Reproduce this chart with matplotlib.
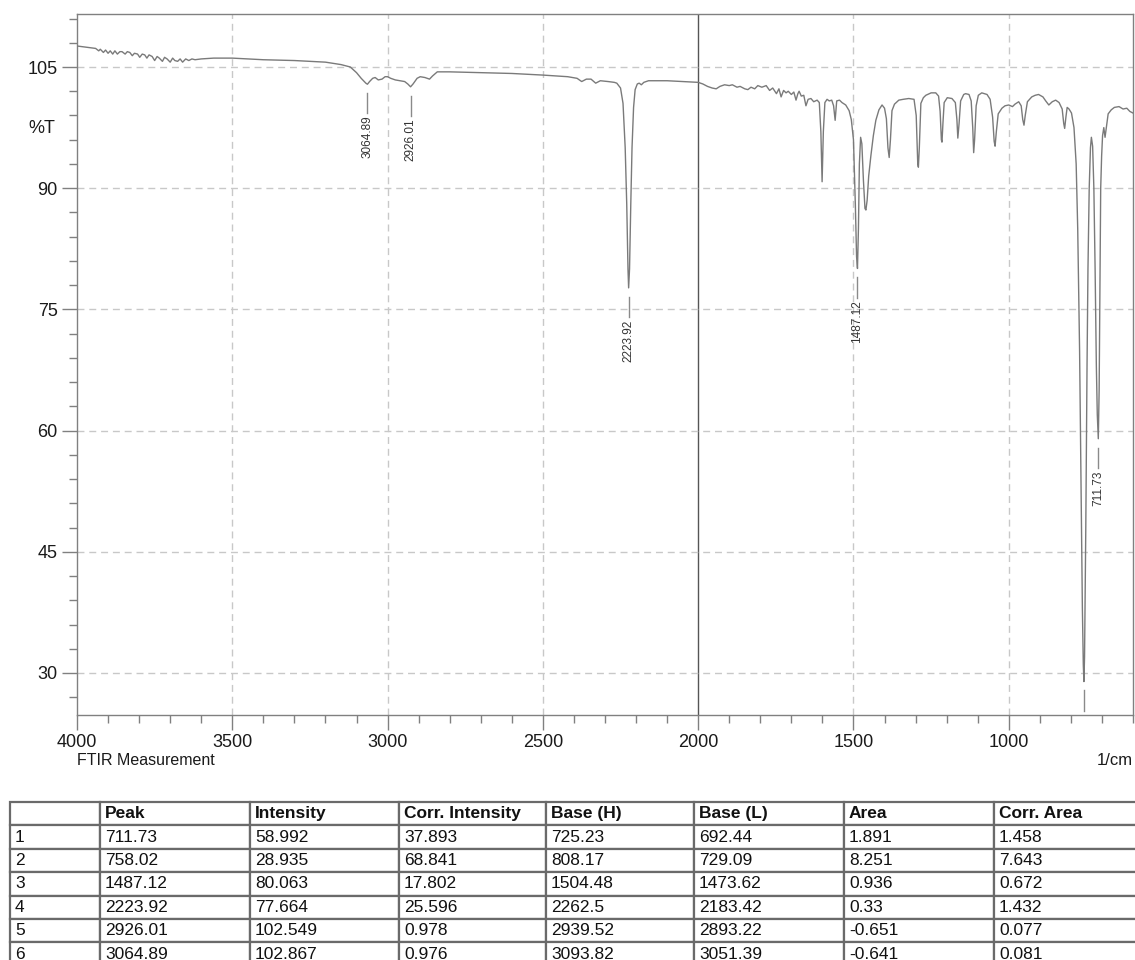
import matplotlib
matplotlib.use('Agg')
import matplotlib.pyplot as plt
from matplotlib.ticker import MultipleLocator

plt.rcParams['font.family'] = ['Liberation Sans', 'DejaVu Sans']

# Spectrum (wavenumber in 1/cm, %T)
wavenumber = [
    4000, 3980, 3960, 3940, 3930, 3925, 3915, 3908, 3900, 3893, 3885, 3878,
    3870, 3862, 3855, 3845, 3838, 3830, 3822, 3815, 3805, 3798, 3790, 3782,
    3775, 3768, 3758, 3750, 3742, 3735, 3725, 3718, 3710, 3700, 3692, 3685,
    3676, 3668, 3660, 3650, 3640, 3630, 3620, 3600, 3560, 3500, 3450, 3400,
    3300, 3200, 3150, 3120, 3100, 3085, 3070, 3064.89, 3058, 3048, 3040, 3030,
    3018, 3008, 3000, 2990, 2975, 2960, 2945, 2935, 2926.01, 2918, 2905, 2895,
    2880, 2865, 2855, 2840, 2800, 2700, 2600, 2500, 2420, 2390, 2375, 2360,
    2345, 2330, 2315, 2290, 2270, 2262, 2250, 2242, 2235, 2230, 2226, 2223.92,
    2221, 2217, 2213, 2208, 2203, 2196, 2190, 2183, 2175, 2160, 2100, 2050,
    2000, 1985, 1970, 1955, 1942, 1930, 1915, 1900, 1890, 1875, 1865, 1850,
    1840, 1830, 1818, 1808, 1795, 1781, 1770, 1760, 1748, 1740, 1733, 1725,
    1717, 1710, 1700, 1692, 1685, 1679, 1675, 1668, 1660, 1653, 1646, 1637,
    1628, 1617, 1610, 1605, 1601, 1597, 1592, 1585, 1578, 1570, 1564, 1559,
    1554, 1545, 1537, 1525, 1514, 1507, 1500, 1494, 1490, 1487.12, 1484, 1481,
    1477, 1473, 1468, 1463, 1460, 1456, 1451, 1444, 1436, 1428, 1418, 1408,
    1400, 1394, 1389, 1385, 1381, 1376, 1368, 1354, 1340, 1322, 1305, 1298,
    1293, 1291, 1288, 1283, 1275, 1267, 1250, 1235, 1226, 1221, 1217, 1215,
    1212, 1208, 1198, 1183, 1172, 1167, 1164, 1160, 1155, 1145, 1139, 1128,
    1121, 1116, 1113, 1110, 1105, 1098, 1087, 1070, 1060, 1052, 1047, 1044,
    1040, 1034, 1022, 1012, 1000, 988, 980, 968, 960, 955, 951, 947,
    940, 926, 915, 904, 890, 881, 871, 860, 849, 838, 828, 823,
    820, 816, 812, 806, 798, 790, 783, 778, 772, 767, 763, 760,
    758.02, 756, 752, 748, 745, 741, 737, 734, 730, 726, 722, 718,
    715, 711.73, 709, 706, 704, 701, 698, 694, 690, 686, 680, 670,
    660, 645, 632, 620, 610, 600,
]
transmittance = [
    107.6, 107.5, 107.4, 107.3, 107.0, 107.2, 106.8, 107.1, 106.7, 107.0, 106.6, 107.0,
    106.6, 106.9, 106.9, 106.6, 106.9, 106.8, 106.4, 106.7, 106.6, 106.2, 106.6, 106.5,
    106.1, 106.5, 106.3, 105.8, 106.3, 106.1, 105.7, 106.2, 106.0, 105.6, 106.1, 105.8,
    105.7, 106.0, 105.6, 106.0, 105.8, 106.0, 105.9, 106.0, 106.1, 106.1, 106.0, 105.9,
    105.8, 105.6, 105.3, 105.0, 104.3, 103.6, 103.0, 102.867, 103.2, 103.6, 103.7, 103.4,
    103.5, 103.8, 103.8, 103.6, 103.4, 103.3, 103.2, 102.9, 102.549, 102.9, 103.6, 103.8,
    103.7, 103.5, 103.9, 104.4, 104.4, 104.3, 104.2, 104.0, 103.8, 103.6, 103.2, 103.5,
    103.5, 103.0, 103.3, 103.2, 103.1, 103.0, 102.4, 100.5, 95.0, 88.0, 80.0, 77.664,
    80.0, 88.0, 95.0, 100.0, 102.2, 102.9, 103.0, 102.8, 103.1, 103.3, 103.3, 103.2,
    103.1, 102.9, 102.6, 102.4, 102.3, 102.6, 102.8, 102.7, 102.8, 102.5, 102.6, 102.3,
    102.2, 102.5, 102.3, 102.7, 102.5, 102.7, 102.1, 102.4, 101.7, 102.3, 101.3, 102.1,
    101.8, 102.0, 101.6, 101.9, 100.9, 101.7, 102.0, 101.4, 101.5, 100.2, 101.0, 101.1,
    100.7, 100.9, 100.6, 97.0, 90.8, 97.0, 100.6, 101.0, 100.8, 100.9, 100.2, 98.4,
    100.8, 100.9, 100.6, 100.3, 99.6, 98.5, 96.0, 88.0, 81.5, 80.063, 85.0, 93.0,
    96.3, 95.5, 91.0, 87.5, 87.3, 88.5, 91.5, 94.0, 96.5, 98.4, 99.7, 100.3,
    99.9, 98.6, 95.0, 93.8, 96.0, 99.6, 100.4, 100.9, 101.0, 101.1, 101.0, 99.0,
    93.0, 92.6, 95.0, 100.5, 101.2, 101.5, 101.8, 101.8, 101.4, 99.5, 96.0, 95.7,
    98.0, 100.6, 101.2, 101.1, 100.6, 98.5, 96.2, 98.0, 100.8, 101.6, 101.7, 101.6,
    100.8, 97.5, 94.4, 96.0, 100.2, 101.5, 101.8, 101.6, 101.0, 98.8, 95.8, 95.2,
    97.0, 99.2, 99.9, 100.2, 100.3, 100.1, 100.4, 100.7, 100.2, 98.5, 97.8, 99.0,
    100.7, 101.3, 101.5, 101.6, 101.3, 100.8, 100.3, 100.7, 100.9, 100.6, 99.8, 98.0,
    97.4, 98.8, 100.0, 99.8, 99.3, 97.5, 93.0, 85.0, 70.0, 52.0, 38.0, 31.0,
    28.935, 32.0, 48.0, 68.0, 80.0, 90.0, 95.0, 96.3, 95.2, 90.0, 80.0, 68.0,
    62.0, 58.992, 65.0, 80.0, 90.0, 94.0, 96.5, 97.5, 96.3, 97.5, 99.2, 99.7,
    100.0, 100.1, 99.8, 99.9, 99.5, 99.3,
]

# Peak table
row_no = [1, 2, 3, 4, 5, 6]
peak = [711.73, 758.02, 1487.12, 2223.92, 2926.01, 3064.89]
intensity = [58.992, 28.935, 80.063, 77.664, 102.549, 102.867]
corr_intensity = [37.893, 68.841, 17.802, 25.596, 0.978, 0.976]
base_h = [725.23, 808.17, 1504.48, 2262.5, 2939.52, 3093.82]
base_l = [692.44, 729.09, 1473.62, 2183.42, 2893.22, 3051.39]
area = [1.891, 8.251, 0.936, 0.33, -0.651, -0.641]
corr_area = [1.458, 7.643, 0.672, 1.432, 0.077, 0.081]
columns = ['', 'Peak', 'Intensity', 'Corr. Intensity', 'Base (H)', 'Base (L)', 'Area', 'Corr. Area']

x_major = [4000, 3500, 3000, 2500, 2000, 1500, 1000]
y_major = [30, 45, 60, 75, 90, 105]

W, H = 1135, 960
fig = plt.figure(figsize=(W / 100, H / 100), dpi=100)
ax = fig.add_axes([77 / W, 1 - 715 / H, (1133 - 77) / W, (715 - 14) / H])

frame = '#808080'
grid_c = '#c8c8c8'
dash = (0, (5, 3.5))

# grid
for x in x_major[1:]:
    if x == 2000:
        ax.axvline(x, color='#555555', lw=1.0, zorder=1)
    else:
        ax.axvline(x, color=grid_c, lw=1.0, ls=dash, zorder=1)
for y in y_major:
    ax.axhline(y, color=grid_c, lw=1.0, ls=dash, zorder=1)

# spectrum
ax.plot(wavenumber, transmittance, color='#7a7a7a', lw=1.0, zorder=3)

# peak labels
for p, t in zip(peak, intensity):
    ax.plot([p, p], [t - 1.1, t - 3.6], color='#8a8a8a', lw=1.0, zorder=3)
    ax.text(p, t - 3.9, f'{p:.2f}', rotation=90, ha='center', va='top',
            fontsize=8.5, color='#333333', clip_on=True, zorder=4)

ax.set_xlim(4000, 600)
ax.set_ylim(24.8, 111.56)
ax.set_xticks(x_major)
ax.set_yticks(y_major)
ax.xaxis.set_minor_locator(MultipleLocator(100))
ax.yaxis.set_minor_locator(MultipleLocator(3))
ax.tick_params(which='major', direction='out', length=11, width=1, color=frame,
               labelsize=13, labelcolor='#1a1a1a', pad=3)
ax.tick_params(which='minor', direction='out', length=5.5, width=1, color=frame)
for s in ax.spines.values():
    s.set_color(frame)
    s.set_linewidth(1.0)

ax.text(-0.021, 97.4, '%T', transform=ax.get_yaxis_transform(), ha='right',
        va='center', fontsize=13, color='#1a1a1a')
fig.text(77 / W, 1 - 765 / H, 'FTIR Measurement', ha='left', va='baseline',
         fontsize=11.5, color='#1a1a1a')
fig.text(1133 / W, 1 - 765 / H, '1/cm', ha='right', va='baseline',
         fontsize=12, color='#1a1a1a')

# table
col_px = [90, 150, 149, 147, 148, 150, 150, 149]
rows = [[str(n), f'{a}', f'{b}', f'{c}', f'{d}', f'{e}', f'{f}', f'{g}']
        for n, a, b, c, d, e, f, g in zip(row_no, peak, intensity, corr_intensity,
                                          base_h, base_l, area, corr_area)]
row_h = 23.4
tab_ax = fig.add_axes([10 / W, 1 - (802 + 7 * row_h) / H, sum(col_px) / W, 7 * row_h / H])
tab_ax.axis('off')
tbl = tab_ax.table(cellText=rows, colLabels=columns,
                   colWidths=[c / sum(col_px) for c in col_px],
                   cellLoc='left', colLoc='left', bbox=[0, 0, 1, 1])
tbl.auto_set_font_size(False)
tbl.set_fontsize(12.5)
for (r, c), cell in tbl.get_celld().items():
    cell.set_edgecolor('#6a6a6a')
    cell.set_linewidth(1.6)
    cell.PAD = 5 / col_px[c]
    cell.get_text().set_color('#111111')
    if r == 0:
        cell.get_text().set_fontweight('bold')

fig.savefig('out.png', dpi=100)
